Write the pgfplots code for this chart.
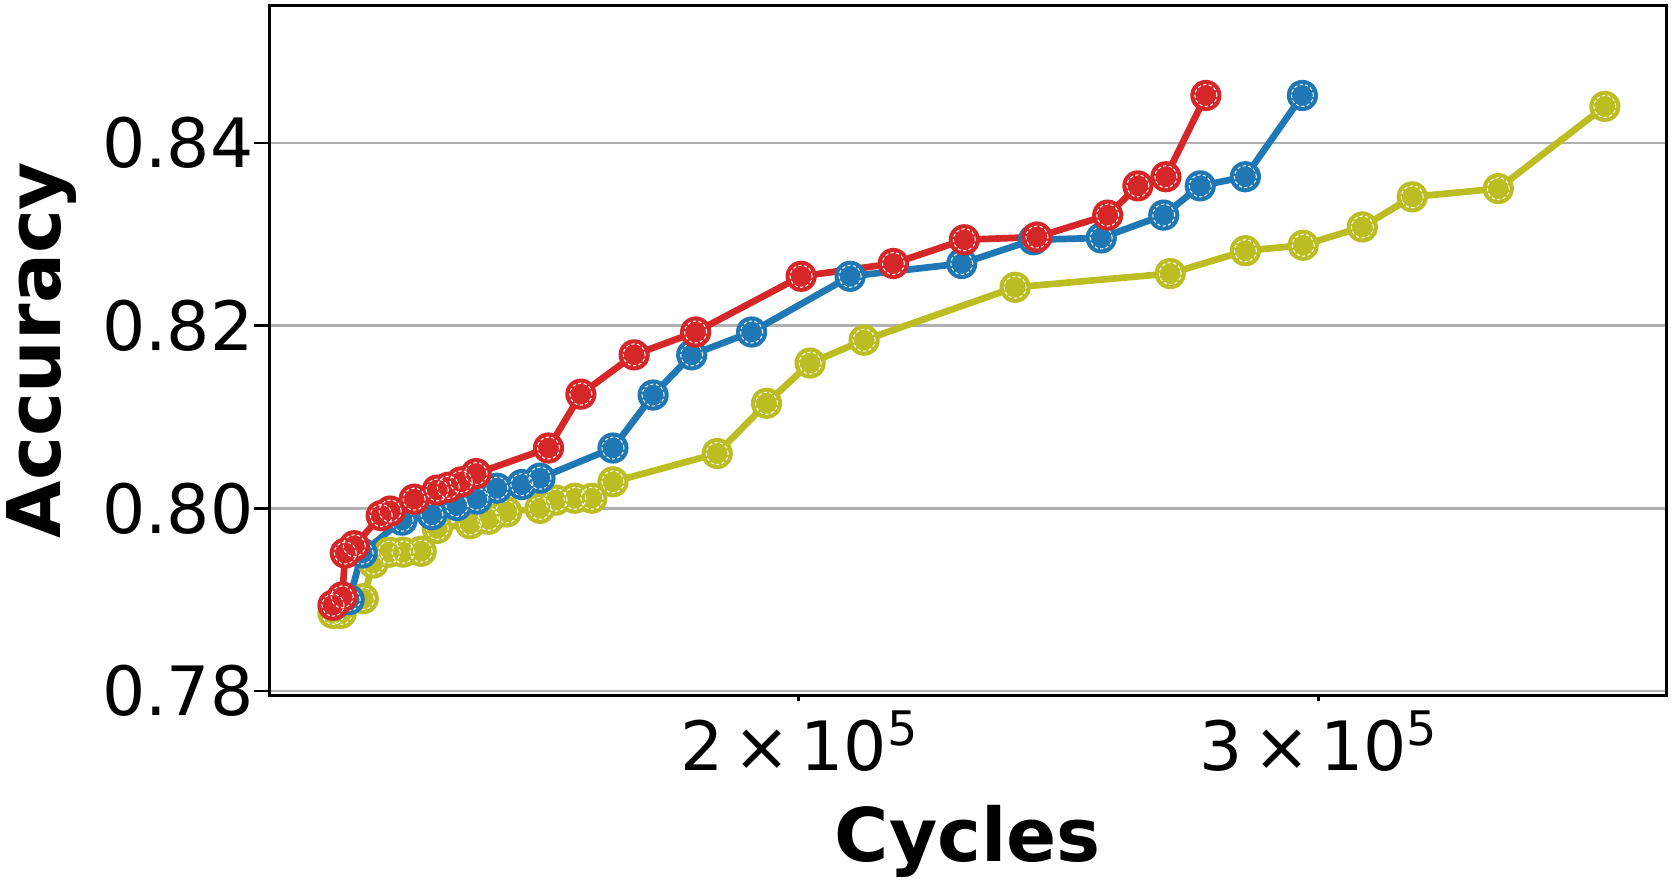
\documentclass[border=0pt]{standalone}
\usepackage{fontspec}
\setmainfont{DejaVu Sans}
\usepackage{pgfplots}
\pgfplotsset{compat=1.18}
\definecolor{tred}{HTML}{D62728}
\definecolor{tblue}{HTML}{1F77B4}
\definecolor{tolive}{HTML}{BCBD22}
\definecolor{gridgray}{HTML}{B0B0B0}
\newcommand{\sci}[1]{#1\hspace{0.15em}×\hspace{0.15em}10\raisebox{0.37em}{\fontsize{11.9pt}{12pt}\selectfont 5}}
\pgfplotsset{
  ser/.style={color=#1, line width=1.67pt, mark=*, mark size=3.6pt,
    mark options={solid, fill=#1, draw=#1, line width=0.6pt}},
  ring/.style={only marks, mark=o, mark size=2.75pt,
    mark options={draw=white, line width=0.25pt, dash pattern=on 0.8pt off 0.6pt}},
}
\begin{document}
\begin{tikzpicture}
\useasboundingbox (-67.25pt,-46pt) rectangle (350.5pt,173.75pt);
\begin{axis}[
  at={(0,0)}, anchor=south west,
  width=349.25pt, height=172.5pt, scale only axis,
  xmode=log, xmin=132300, xmax=393540,
  ymin=0.77956, ymax=0.85510,
  axis line style={line width=0.75pt, black},
  tick align=outside, tick pos=left,
  major tick length=3.75pt, minor tick length=1.6pt,
  tick style={line width=0.7pt, black},
  xtick={200000,300000},
  xticklabels={\sci{2},\sci{3}},
  major x tick style={draw=none},
  minor xtick={200000,300000},
  yminorticks=false,
  ytick={0.78,0.80,0.82,0.84},
  yticklabels={0.78,0.80,0.82,0.84},
  ymajorgrids=true,
  major grid style={gridgray, line width=0.7pt},
  tick label style={font=\fontsize{17pt}{20pt}\selectfont},
  yticklabel style={anchor=east, inner sep=0pt},
  xticklabel style={anchor=north, inner sep=0pt},
  label style={font=\fontsize{18.5pt}{22pt}\selectfont\bfseries},
  xlabel={Cycles},
  ylabel={Accuracy},
  xlabel style={at={(axis description cs:0.5,-0.2420)}, anchor=base},
  ylabel style={at={(axis description cs:-0.1496,0.5)}, anchor=base, rotate=0},
  clip=false,
]
% olive
\addplot[ser=tolive] coordinates {
(139060,0.7885) (139940,0.7885) (142370,0.7901) (143480,0.7940) (145290,0.7952)
(146880,0.7952) (148960,0.7953) (150840,0.7978) (154770,0.7983) (157020,0.7988)
(159250,0.7996) (163430,0.8000) (165490,0.8009) (167950,0.8011) (170190,0.8011)
(173000,0.8029) (187670,0.8060) (195040,0.8115) (201760,0.8159) (210440,0.8184)
(236760,0.8242) (267220,0.8257) (283360,0.8282) (296450,0.8288) (310440,0.8308)
(322770,0.8341) (345190,0.8350) (375120,0.8440)
};
\addplot[ring] coordinates {
(139060,0.7885) (139940,0.7885) (142370,0.7901) (143480,0.7940) (145290,0.7952)
(146880,0.7952) (148960,0.7953) (150840,0.7978) (154770,0.7983) (157020,0.7988)
(159250,0.7996) (163430,0.8000) (165490,0.8009) (167950,0.8011) (170190,0.8011)
(173000,0.8029) (187670,0.8060) (195040,0.8115) (201760,0.8159) (210440,0.8184)
(236760,0.8242) (267220,0.8257) (283360,0.8282) (296450,0.8288) (310440,0.8308)
(322770,0.8341) (345190,0.8350) (375120,0.8440)
};
% blue
\addplot[ser=tblue] coordinates {
(139160,0.7894) (140820,0.7900) (142260,0.7951) (146760,0.7987) (150220,0.7993)
(153170,0.8003) (155580,0.8010) (158030,0.8022) (161140,0.8026) (163430,0.8033)
(173000,0.8066) (178520,0.8124) (183970,0.8168) (192790,0.8193) (208160,0.8254)
(227110,0.8268) (240180,0.8294) (253210,0.8296) (265870,0.8321) (273550,0.8353)
(283360,0.8363) (296260,0.8452)
};
\addplot[ring] coordinates {
(139160,0.7894) (140820,0.7900) (142260,0.7951) (146760,0.7987) (150220,0.7993)
(153170,0.8003) (155580,0.8010) (158030,0.8022) (161140,0.8026) (163430,0.8033)
(173000,0.8066) (178520,0.8124) (183970,0.8168) (192790,0.8193) (208160,0.8254)
(227110,0.8268) (240180,0.8294) (253210,0.8296) (265870,0.8321) (273550,0.8353)
(283360,0.8363) (296260,0.8452)
};
% red
\addplot[ser=tred] coordinates {
(139060,0.7894) (140060,0.7903) (140390,0.7951) (141380,0.7959) (144390,0.7992)
(145400,0.7997) (148150,0.8010) (150840,0.8020) (152140,0.8023) (153690,0.8029)
(155490,0.8038) (164520,0.8066) (168730,0.8125) (175900,0.8168) (184540,0.8193)
(200350,0.8254) (215300,0.8268) (227560,0.8294) (240820,0.8297) (254500,0.8321)
(260560,0.8353) (266320,0.8363) (274760,0.8452)
};
\addplot[ring] coordinates {
(139060,0.7894) (140060,0.7903) (140390,0.7951) (141380,0.7959) (144390,0.7992)
(145400,0.7997) (148150,0.8010) (150840,0.8020) (152140,0.8023) (153690,0.8029)
(155490,0.8038) (164520,0.8066) (168730,0.8125) (175900,0.8168) (184540,0.8193)
(200350,0.8254) (215300,0.8268) (227560,0.8294) (240820,0.8297) (254500,0.8321)
(260560,0.8353) (266320,0.8363) (274760,0.8452)
};
\end{axis}
\end{tikzpicture}
\end{document}
